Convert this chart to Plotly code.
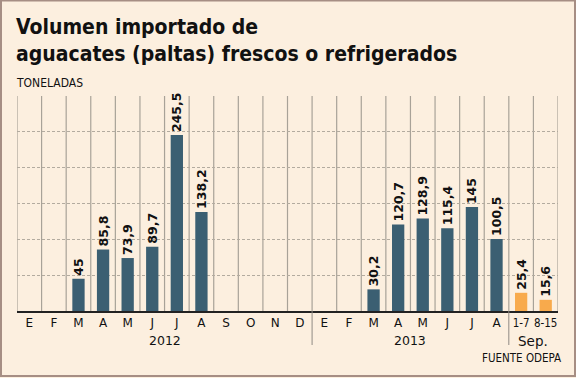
import plotly.graph_objects as go

# ---- data ----
months = ["E", "F", "M", "A", "M", "J", "J", "A", "S", "O", "N", "D",
          "E", "F", "M", "A", "M", "J", "J", "A", "1-7", "8-15"]
values = [None, None, 45, 85.8, 73.9, 89.7, 245.5, 138.2, None, None, None, None,
          None, None, 30.2, 120.7, 128.9, 115.4, 145, 100.5, 25.4, 15.6]
groups = ["2012"] * 12 + ["2013"] * 8 + ["Sep."] * 2
group_names = ["2012", "2013", "Sep."]
week_flags = [False] * 20 + [True] * 2

# ---- geometry / style ----
W, H = 576, 378
L, R, T, B = 17, 18, 96, 67
PW, PH = W - L - R, H - T - B
BG = "#fcefdf"
DARK = "#3b5f72"
ORANGE = "#f8aa4c"
COND = "DejaVu Sans Condensed, Liberation Sans, sans-serif"


def px(x):
    return (x - L) / PW


def py(y):
    return (H - B - y) / PH


idx = list(range(len(months)))
colors = [ORANGE if w else DARK for w in week_flags]
labels = ["" if v is None else f"{v:g}".replace(".", ",") for v in values]
ticktext = [f'<span style="font-family:DejaVu Sans Condensed;font-size:11.5px">{m}</span>' if w else m
            for m, w in zip(months, week_flags)]

fig = go.Figure()
fig.add_trace(go.Bar(
    x=idx, y=[0 if v is None else v for v in values],
    marker=dict(color=colors, line=dict(width=0)),
    text=labels, textposition="outside", textangle=-90,
    textfont=dict(family="DejaVu Sans", size=12.5, color="#111", weight="bold"),
    cliponaxis=False, constraintext="none", hoverinfo="skip",
))

fig.update_layout(
    width=W, height=H,
    margin=dict(l=L, r=R, t=T, b=B),
    paper_bgcolor=BG, plot_bgcolor=BG,
    bargap=0.5, showlegend=False,
    xaxis=dict(
        range=[-0.5, len(months) - 0.5],
        tickmode="array", tickvals=idx, ticktext=ticktext,
        tickfont=dict(family="DejaVu Sans", size=12, color="#111"),
        ticks="", showgrid=False, zeroline=False,
        showline=True, linecolor="#222", linewidth=1.5,
    ),
    yaxis=dict(
        range=[0, 300], dtick=50, showticklabels=False, ticks="",
        showgrid=True, gridcolor="#b3ab9f", gridwidth=1, griddash="3px,2px",
        zeroline=False, showline=False,
    ),
)

# vertical grid at category boundaries
for i in range(len(months) + 1):
    fig.add_shape(type="line", xref="x", yref="paper", x0=i - 0.5, x1=i - 0.5,
                  y0=0, y1=1, line=dict(color="#a8a298", width=1.2), layer="below")

# group dividers below the axis
bounds = [i for i in range(1, len(groups)) if groups[i] != groups[i - 1]]
for b in bounds:
    fig.add_shape(type="line", xref="x", yref="paper", x0=b - 0.5, x1=b - 0.5,
                  y0=0, y1=py(345), line=dict(color="#8f8a84", width=1))

# group labels
for g in group_names:
    members = [i for i, gg in enumerate(groups) if gg == g]
    mid = (members[0] + members[-1]) / 2
    fig.add_annotation(x=mid, xref="x", y=py(340.5), yref="paper", text=g,
                       showarrow=False, xanchor="center", yanchor="middle",
                       font=dict(family="DejaVu Sans", size=12.5 if g != "Sep." else 13.5,
                                 color="#111"))

# title and texts
fig.add_annotation(x=px(14), y=py(13), xref="paper", yref="paper",
                   text="Volumen importado de<br>aguacates (paltas) frescos o refrigerados",
                   showarrow=False, xanchor="left", yanchor="top", align="left",
                   font=dict(family=COND, size=21, color="#111", weight="bold"))
fig.add_annotation(x=px(14), y=py(82.5), xref="paper", yref="paper", text="TONELADAS",
                   showarrow=False, xanchor="left", yanchor="middle",
                   font=dict(family=COND, size=12, color="#111"))
fig.add_annotation(x=px(563), y=py(358), xref="paper", yref="paper", text="FUENTE ODEPA",
                   showarrow=False, xanchor="right", yanchor="middle",
                   font=dict(family=COND, size=11.5, color="#111"))

# outer frame
fig.add_shape(type="rect", xref="paper", yref="paper",
              x0=px(1), x1=px(575), y0=py(376), y1=py(0.5),
              line=dict(color="#a68e84", width=2), layer="above")

fig.write_html("out.html", config={"displayModeBar": False},
               post_script="document.body.style.margin='0';document.body.style.padding='0';")
